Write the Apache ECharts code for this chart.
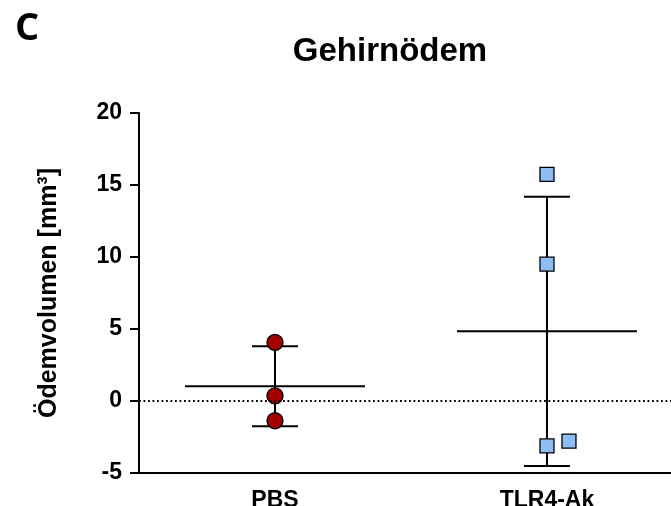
<!DOCTYPE html>
<html><head><meta charset="utf-8">
<script src="https://cdn.jsdelivr.net/npm/echarts@6/dist/echarts.min.js"></script>
<style>html,body{margin:0;padding:0;background:#fff;overflow:hidden}#c{width:671px;height:506px}</style>
</head><body><div id="c"></div>
<script>
const categories = ['PBS', 'TLR4-Ak'];
const categoryPos = [0.5, 1.5];
const pbsValues = [4.07, 0.35, -1.37];
const tlrValues = [15.74, 9.51, -3.12, -2.78];
const tlrJitter = [0, 0, 0, 22];
const means = [1.02, 4.84];
const sds = [2.78, 9.35];
const yTicks = [-5, 0, 5, 10, 15, 20];

const chart = echarts.init(document.getElementById('c'));
const summary = categories.map((c, i) => [categoryPos[i], means[i], sds[i]]);

chart.setOption({
  animation: false,
  title: [
    {text: 'Gehirnödem', left: 385, top: 30, textAlign: 'center',
     textStyle: {fontFamily: 'Liberation Sans', fontWeight: 'bold', fontSize: 33, color: '#000'}},
    {text: 'C', left: 10, top: 5,
     textStyle: {fontFamily: 'Open Sans', fontWeight: 'bold', fontSize: 38, color: '#000'}}
  ],
  grid: {left: 139, top: 113, width: 532, height: 360, containLabel: false, outerBoundsMode: 'none'},
  xAxis: {
    type: 'value', min: 0, max: 1.956, interval: 0.5,
    axisLine: {onZero: false, lineStyle: {color: '#000', width: 2}},
    axisTick: {show: false},
    splitLine: {show: false},
    axisLabel: {margin: 16, fontFamily: 'Liberation Sans', fontWeight: 'bold', fontSize: 23, color: '#000',
      showMinLabel: true, showMaxLabel: false,
      formatter: v => {
        const i = categoryPos.findIndex(p => Math.abs(p - v) < 1e-6);
        return i >= 0 ? categories[i] : '';
      }}
  },
  yAxis: {
    type: 'value', min: -5, max: 20, interval: 5,
    name: 'Ödemvolumen [mm³]', nameLocation: 'middle', nameGap: 77, nameRotate: 90,
    nameTextStyle: {fontFamily: 'Liberation Sans', fontWeight: 'bold', fontSize: 25, color: '#000'},
    axisLine: {show: true, lineStyle: {color: '#000', width: 2}},
    axisTick: {show: true, length: 9, lineStyle: {color: '#000', width: 2}},
    axisLabel: {margin: 17, fontFamily: 'Liberation Sans', fontWeight: 'bold', fontSize: 23, color: '#000',
      formatter: v => yTicks.includes(v) ? String(v) : ''},
    splitLine: {show: false}
  },
  series: [
    {
      type: 'custom', z: 1,
      renderItem: function (params, api) {
        const pm = api.coord([api.value(0), api.value(1)]);
        const pt = api.coord([api.value(0), api.value(1) + api.value(2)]);
        const pb = api.coord([api.value(0), api.value(1) - api.value(2)]);
        const x = pm[0];
        const st = {stroke: '#000', lineWidth: 2};
        return {type: 'group', children: [
          {type: 'line', shape: {x1: x - 90, y1: pm[1], x2: x + 90, y2: pm[1]}, style: st},
          {type: 'line', shape: {x1: x, y1: pt[1], x2: x, y2: pb[1]}, style: st},
          {type: 'line', shape: {x1: x - 23, y1: pt[1], x2: x + 23, y2: pt[1]}, style: st},
          {type: 'line', shape: {x1: x - 23, y1: pb[1], x2: x + 23, y2: pb[1]}, style: st}
        ]};
      },
      data: summary,
      markLine: {
        silent: true, symbol: 'none', label: {show: false},
        lineStyle: {type: [1.8, 2.7], color: '#000', width: 1.8},
        data: [{yAxis: 0}]
      }
    },
    {
      type: 'scatter', z: 3, symbol: 'circle', symbolSize: 16,
      itemStyle: {color: '#A00000', borderColor: '#000', borderWidth: 1.3, opacity: 1},
      data: pbsValues.map(v => [categoryPos[0], v])
    },
    {
      type: 'scatter', z: 3, symbol: 'rect', symbolSize: 14,
      itemStyle: {color: '#8DBDF3', borderColor: '#000', borderWidth: 1.3, opacity: 1},
      data: tlrValues.map((v, i) => ({value: [categoryPos[1], v], symbolOffset: [tlrJitter[i], 0]}))
    }
  ]
});
</script></body></html>
